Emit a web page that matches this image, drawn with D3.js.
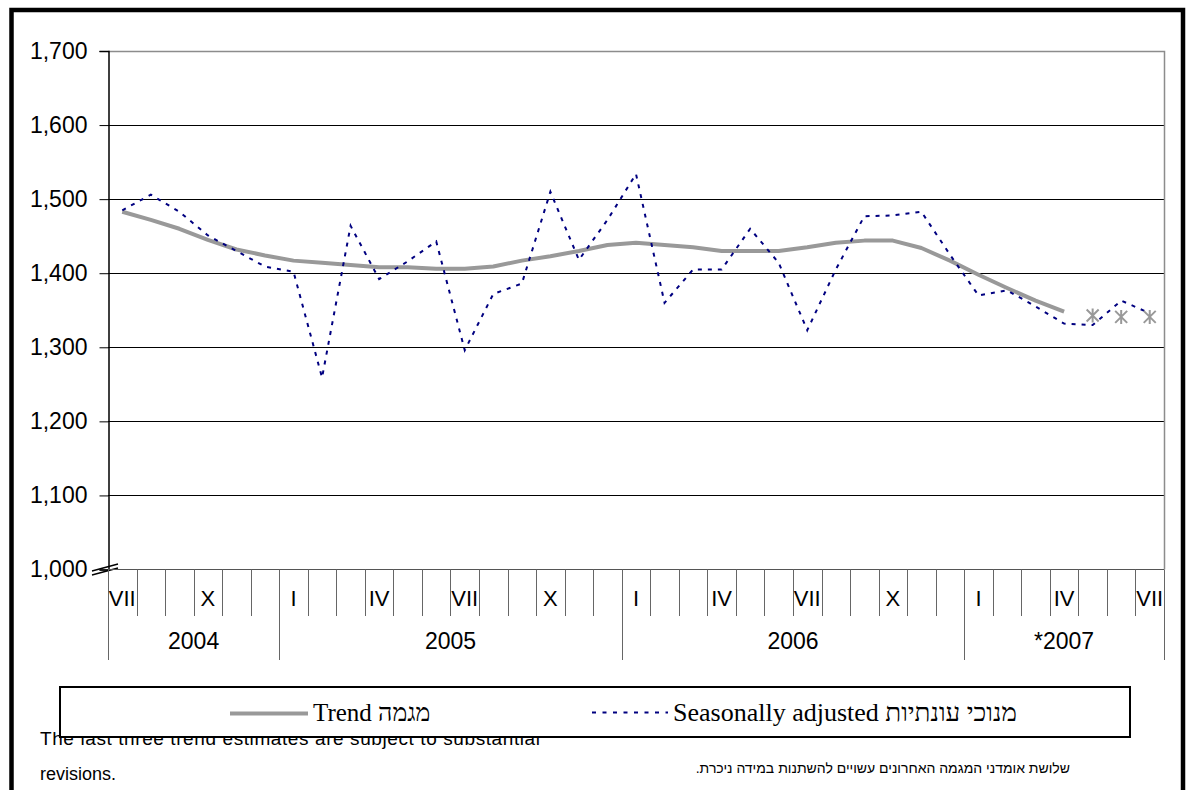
<!DOCTYPE html>
<html>
<head>
<meta charset="utf-8">
<script src="https://cdn.jsdelivr.net/npm/d3@7"></script>
<style>
  body { margin: 0; background: #fff; }
  svg { display: block; }
</style>
</head>
<body>
<div id="chart"></div>
<script>
// month labels along the category axis (blank = tick only)
var monthLabels = ["VII","","","X","","","I","","","IV","","","VII","","","X","","",
  "I","","","IV","","","VII","","","X","","","I","","","IV","","","VII"];

// year groups and how many months each covers
var years = ["2004", "2005", "2006", "*2007"];
var yearMonths = [6, 12, 12, 7];

// seasonally adjusted series, Jul 2004 - Jul 2007
var seasonal = [1485, 1506, 1483, 1451, 1430, 1409, 1402, 1259, 1464, 1392, 1416, 1443,
  1296, 1372, 1386, 1510, 1418, 1472, 1534, 1360, 1405, 1405, 1460, 1414,
  1323, 1405, 1477, 1478, 1483, 1425, 1370, 1377, 1355, 1332, 1330, 1363, 1346];

// trend, Jul 2004 - Apr 2007
var trend = [1483, 1472, 1460, 1445, 1432, 1424, 1417, 1414, 1411, 1408, 1408, 1406,
  1406, 1409, 1417, 1423, 1430, 1438, 1441, 1438, 1435, 1430, 1430, 1430,
  1435, 1441, 1444, 1444, 1434, 1417, 1398, 1380, 1363, 1348];

// last three trend estimates (May - Jul 2007), drawn as stars
var trendEstimates = [1343, 1341, 1341];

var yTicks = [1000, 1100, 1200, 1300, 1400, 1500, 1600, 1700];

var W = 1192, H = 790;
var plot = { left: 108, right: 1164, top: 51, bottom: 569.5 };

var svg = d3.select("#chart").append("svg")
  .attr("width", W)
  .attr("height", H)
  .style("font-family", "'Liberation Sans', Arial, sans-serif");

var idx = d3.range(monthLabels.length);

// scales
var x = d3.scaleBand().domain(idx).range([plot.left, plot.right]).padding(0);
var y = d3.scaleLinear().domain([1000, 1700]).range([plot.bottom, plot.top]);
var cx = function (i) { return x(i) + x.bandwidth() / 2; };

// gridlines
svg.append("g")
  .selectAll("line")
  .data(yTicks.filter(function (d) { return d > 1000 && d < 1700; }))
  .enter().append("line")
  .attr("x1", plot.left).attr("x2", plot.right)
  .attr("y1", function (d) { return Math.round(y(d)) + 0.5; })
  .attr("y2", function (d) { return Math.round(y(d)) + 0.5; })
  .attr("stroke", "#000")
  .attr("stroke-width", 1);

// plot area border (top and right, grey)
svg.append("path")
  .attr("d", "M" + plot.left + "," + (Math.round(y(1700)) + 0.5) +
    "H" + (plot.right + 0.5) + "V" + plot.bottom)
  .attr("fill", "none")
  .attr("stroke", "#8c8c8c")
  .attr("stroke-width", 1.5);

// y axis
var yAxis = svg.append("g")
  .attr("transform", "translate(" + (plot.left + 0.5) + ",0)")
  .call(d3.axisLeft(y).tickValues(yTicks).tickSize(9).tickPadding(12)
    .tickFormat(d3.format(",")));
yAxis.select(".domain").attr("stroke", "#000").attr("stroke-width", 1.5);
yAxis.selectAll(".tick line").attr("stroke", "#000");
yAxis.selectAll("text")
  .attr("font-size", 23)
  .attr("fill", "#000")
  .attr("font-family", "'Liberation Sans', Arial, sans-serif");

// axis break marks at the bottom of the y axis
[0, 4].forEach(function (o) {
  svg.append("line")
    .attr("x1", 92).attr("y1", 574 + o - 3)
    .attr("x2", 118).attr("y2", 567 + o - 3)
    .attr("stroke", "#000").attr("stroke-width", 1.3);
});

// category axis baseline
svg.append("line")
  .attr("x1", plot.left).attr("x2", plot.right)
  .attr("y1", plot.bottom).attr("y2", plot.bottom)
  .attr("stroke", "#555").attr("stroke-width", 1.2);

// month tick lines (boundaries between categories)
var yearStarts = [0];
yearMonths.forEach(function (n, i) { yearStarts.push(yearStarts[i] + n); });

var cat = svg.append("g");
d3.range(monthLabels.length + 1).forEach(function (i) {
  var xx = i < monthLabels.length ? x(i) : plot.right;
  var isYear = yearStarts.indexOf(i) >= 0;
  cat.append("line")
    .attr("x1", Math.round(xx) + 0.5).attr("x2", Math.round(xx) + 0.5)
    .attr("y1", plot.bottom)
    .attr("y2", isYear ? 660 : 616)
    .attr("stroke", "#666")
    .attr("stroke-width", 1);
});

// month labels
cat.selectAll(".mlab")
  .data(idx)
  .enter().append("text")
  .attr("class", "mlab")
  .attr("x", function (i) { return cx(i); })
  .attr("y", 606)
  .attr("text-anchor", "middle")
  .attr("font-size", 22)
  .text(function (i) { return monthLabels[i]; });

// year labels
cat.selectAll(".ylab")
  .data(years)
  .enter().append("text")
  .attr("class", "ylab")
  .attr("x", function (d, i) {
    var a = x(yearStarts[i]);
    var b = yearStarts[i + 1] < monthLabels.length ? x(yearStarts[i + 1]) : plot.right;
    return (a + b) / 2;
  })
  .attr("y", 649)
  .attr("text-anchor", "middle")
  .attr("font-size", 23)
  .text(function (d) { return d; });

// lines
var line = d3.line()
  .x(function (d, i) { return cx(i); })
  .y(function (d) { return y(d); });

svg.append("path")
  .datum(trend)
  .attr("d", line)
  .attr("fill", "none")
  .attr("stroke", "#999")
  .attr("stroke-width", 4)
  .attr("stroke-linejoin", "round");

svg.append("path")
  .datum(seasonal)
  .attr("d", line)
  .attr("fill", "none")
  .attr("stroke", "#000080")
  .attr("stroke-width", 2)
  .attr("stroke-dasharray", "4,6");

// star markers for the last three trend estimates
var s = 6;
svg.append("g")
  .selectAll("path")
  .data(trendEstimates)
  .enter().append("path")
  .attr("transform", function (d, i) {
    return "translate(" + cx(trend.length + i) + "," + y(d) + ")";
  })
  .attr("d", "M" + (-s) + "," + (-s) + "L" + s + "," + s +
    "M" + (-s) + "," + s + "L" + s + "," + (-s) +
    "M0," + (-s - 1) + "V" + (s + 1))
  .attr("stroke", "#999")
  .attr("stroke-width", 2)
  .attr("fill", "none");

// footnotes (the first line sits partly under the legend box, as in the original)
svg.append("text")
  .attr("x", 40).attr("y", 745)
  .attr("font-size", 19)
  .attr("textLength", 500)
  .attr("lengthAdjust", "spacing")
  .text("The last three trend estimates are subject to substantial");
svg.append("text")
  .attr("x", 40).attr("y", 780)
  .attr("font-size", 18)
  .text("revisions.");
svg.append("text")
  .attr("x", 1070).attr("y", 773)
  .attr("direction", "rtl")
  .attr("text-anchor", "start")
  .attr("font-size", 14)
  .text("שלושת אומדני המגמה האחרונים עשויים להשתנות במידה ניכרת.");

// legend
var lg = svg.append("g");
lg.append("rect")
  .attr("x", 60).attr("y", 687)
  .attr("width", 1070).attr("height", 50)
  .attr("fill", "#fff")
  .attr("stroke", "#000")
  .attr("stroke-width", 2);

lg.append("line")
  .attr("x1", 230).attr("x2", 308)
  .attr("y1", 713.5).attr("y2", 713.5)
  .attr("stroke", "#999").attr("stroke-width", 4);
lg.append("text")
  .attr("x", 313).attr("y", 721)
  .attr("font-family", "'Liberation Serif', 'Times New Roman', serif")
  .attr("font-size", 25)
  .text("Trend מגמה");

lg.append("line")
  .attr("x1", 592).attr("x2", 668)
  .attr("y1", 712.5).attr("y2", 712.5)
  .attr("stroke", "#000080").attr("stroke-width", 2)
  .attr("stroke-dasharray", "4,6.5");
lg.append("text")
  .attr("x", 673).attr("y", 721)
  .attr("font-family", "'Liberation Serif', 'Times New Roman', serif")
  .attr("font-size", 26)
  .text("Seasonally adjusted מנוכי עונתיות");

// outer frame
svg.append("rect")
  .attr("x", 11.5).attr("y", 10)
  .attr("width", 1171.5).attr("height", 800)
  .attr("fill", "none")
  .attr("stroke", "#000")
  .attr("stroke-width", 4.5);
</script>
</body>
</html>
